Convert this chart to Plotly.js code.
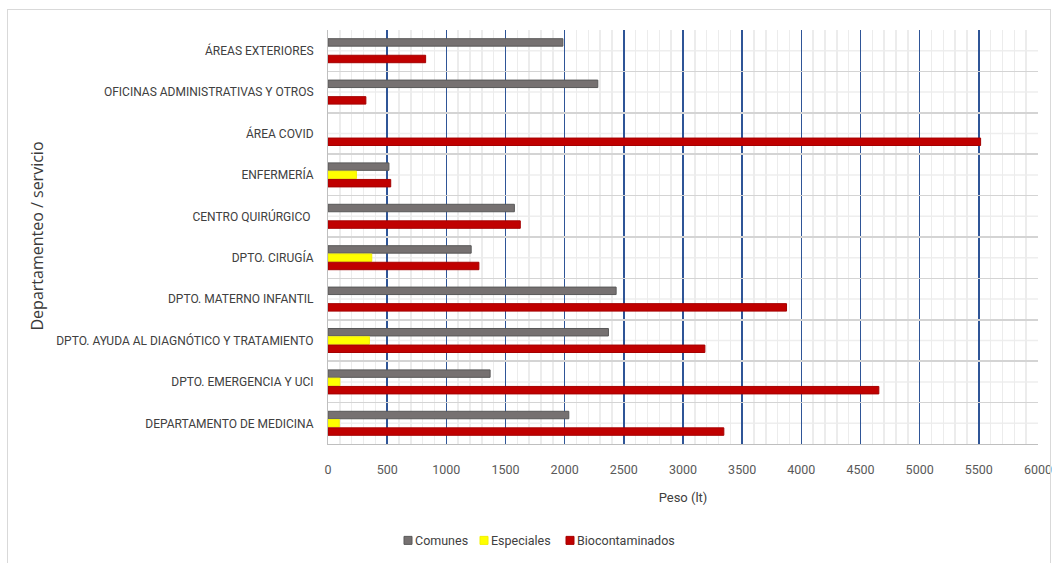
<!DOCTYPE html>
<html>
<head>
<meta charset="utf-8">
<script src="https://cdn.plot.ly/plotly-3.0.1.min.js"></script>
<style>
  html, body { margin: 0; padding: 0; background: #ffffff; }
  #wrap { position: relative; width: 1059px; height: 563px; }
  #chart { width: 1059px; height: 563px; }
  #frame { position: absolute; left: 7px; top: 9px; width: 1044px; height: 560px;
           border: 1px solid #d9d9d9; pointer-events: none; box-sizing: border-box; }
</style>
</head>
<body>
<div id="wrap">
  <div id="chart"></div>
  <div id="frame"></div>
</div>
<script>
// Departments, listed top to bottom
const departamentos = [
  "ÁREAS EXTERIORES",
  "OFICINAS ADMINISTRATIVAS Y OTROS",
  "ÁREA COVID",
  "ENFERMERÍA",
  "CENTRO QUIRÚRGICO ",
  "DPTO. CIRUGÍA",
  "DPTO. MATERNO INFANTIL",
  "DPTO. AYUDA AL DIAGNÓTICO Y TRATAMIENTO",
  "DPTO. EMERGENCIA Y UCI",
  "DEPARTAMENTO DE MEDICINA"
];

// Waste weight (lt) per department and type
const comunes         = [1985, 2280, null, 515, 1575, 1210, 2435, 2370, 1370, 2035];
const especiales      = [null, null, null, 240, null, 370, null, 350, 100, 95];
const biocontaminados = [825, 320, 5515, 530, 1625, 1275, 3875, 3185, 4655, 3345];

const xTicks = [0, 500, 1000, 1500, 2000, 2500, 3000, 3500, 4000, 4500, 5000, 5500, 6000];

const seriesNames = ["Comunes", "Especiales", "Biocontaminados"];
const fills = ["#767171", "#FFFF00", "#C00000"];
const edges = ["#595959", "#F2F200", "#A50000"];

const fontFam = "Roboto, 'Liberation Sans', sans-serif";

// plot area in pixels
const W = 1059, H = 563;
const M = { l: 328, r: 21, t: 30, b: 118.5 };
const plotW = W - M.l - M.r, plotH = H - M.t - M.b;
const px2x = px => (px - M.l) / plotW;
const py2y = py => (H - M.b - py) / plotH;

const values = [comunes, especiales, biocontaminados];
const data = seriesNames.map((name, i) => ({
  type: "bar",
  orientation: "h",
  name: name,
  y: departamentos,
  x: values[i],
  marker: { color: fills[i], line: { color: edges[i], width: 1 } },
  hoverinfo: "x+name"
}));

// faint lines through the middle of each department band
const shapes = departamentos.map(d => ({
  type: "line", xref: "paper", yref: "y",
  x0: 0, x1: 1, y0: d, y1: d,
  line: { color: "#eeeeee", width: 1.5 },
  layer: "below"
}));

// legend row under the chart: small square + name
const legendSym = [408, 484, 570];
const annotations = [];
seriesNames.forEach((name, i) => {
  const cy = 541;
  shapes.push({
    type: "rect", xref: "paper", yref: "paper",
    x0: px2x(legendSym[i] - 4), x1: px2x(legendSym[i] + 4),
    y0: py2y(cy + 4), y1: py2y(cy - 4),
    fillcolor: fills[i], line: { color: edges[i], width: 1 }
  });
  annotations.push({
    xref: "paper", yref: "paper",
    x: px2x(legendSym[i] + 5), y: py2y(cy),
    xanchor: "left", yanchor: "middle",
    text: name, showarrow: false,
    font: { family: fontFam, size: 12.5, color: "#404040" }
  });
});

const layout = {
  width: W,
  height: H,
  margin: M,
  paper_bgcolor: "#ffffff",
  plot_bgcolor: "#ffffff",
  barmode: "group",
  bargap: 0.4,
  bargroupgap: 0.1,
  font: { family: fontFam, size: 12, color: "#404040" },
  showlegend: false,
  xaxis: {
    range: [0, 6000],
    tickvals: xTicks,
    ticktext: xTicks.map(String),
    tickfont: { family: fontFam, size: 12.5, color: "#595959" },
    showgrid: true,
    gridcolor: "#2F5597",
    gridwidth: 1.5,
    minor: { dtick: 100, showgrid: true, gridcolor: "#ececec", gridwidth: 1.5, ticks: "" },
    showline: true,
    linecolor: "#bfbfbf",
    linewidth: 1,
    zeroline: false,
    ticks: "",
    ticklabelstandoff: 14,
    title: { text: "Peso (lt)", font: { family: fontFam, size: 13, color: "#404040" }, standoff: 16 }
  },
  yaxis: {
    type: "category",
    autorange: "reversed",
    tickson: "boundaries",
    showgrid: true,
    gridcolor: "#d4d4d4",
    gridwidth: 1.5,
    showline: true,
    linecolor: "#bfbfbf",
    linewidth: 1,
    ticks: "",
    ticklabelstandoff: 11,
    tickfont: { family: fontFam, size: 12, color: "#404040" },
    title: {
      text: "Departamenteo / servicio",
      font: { family: "'Open Sans', sans-serif", size: 16, color: "#3a3a3a" },
      standoff: 0
    }
  },
  shapes: shapes,
  annotations: annotations
};

Plotly.newPlot("chart", data, layout, { displayModeBar: false, staticPlot: true }).then(() => {
  // keep the vertical axis title close to the frame's left edge
  const t = document.querySelector(".g-ytitle text");
  if (t) {
    t.setAttribute("x", 43);
    t.setAttribute("y", 236);
    t.setAttribute("transform", "rotate(-90,43,236)");
  }
});
</script>
</body>
</html>
